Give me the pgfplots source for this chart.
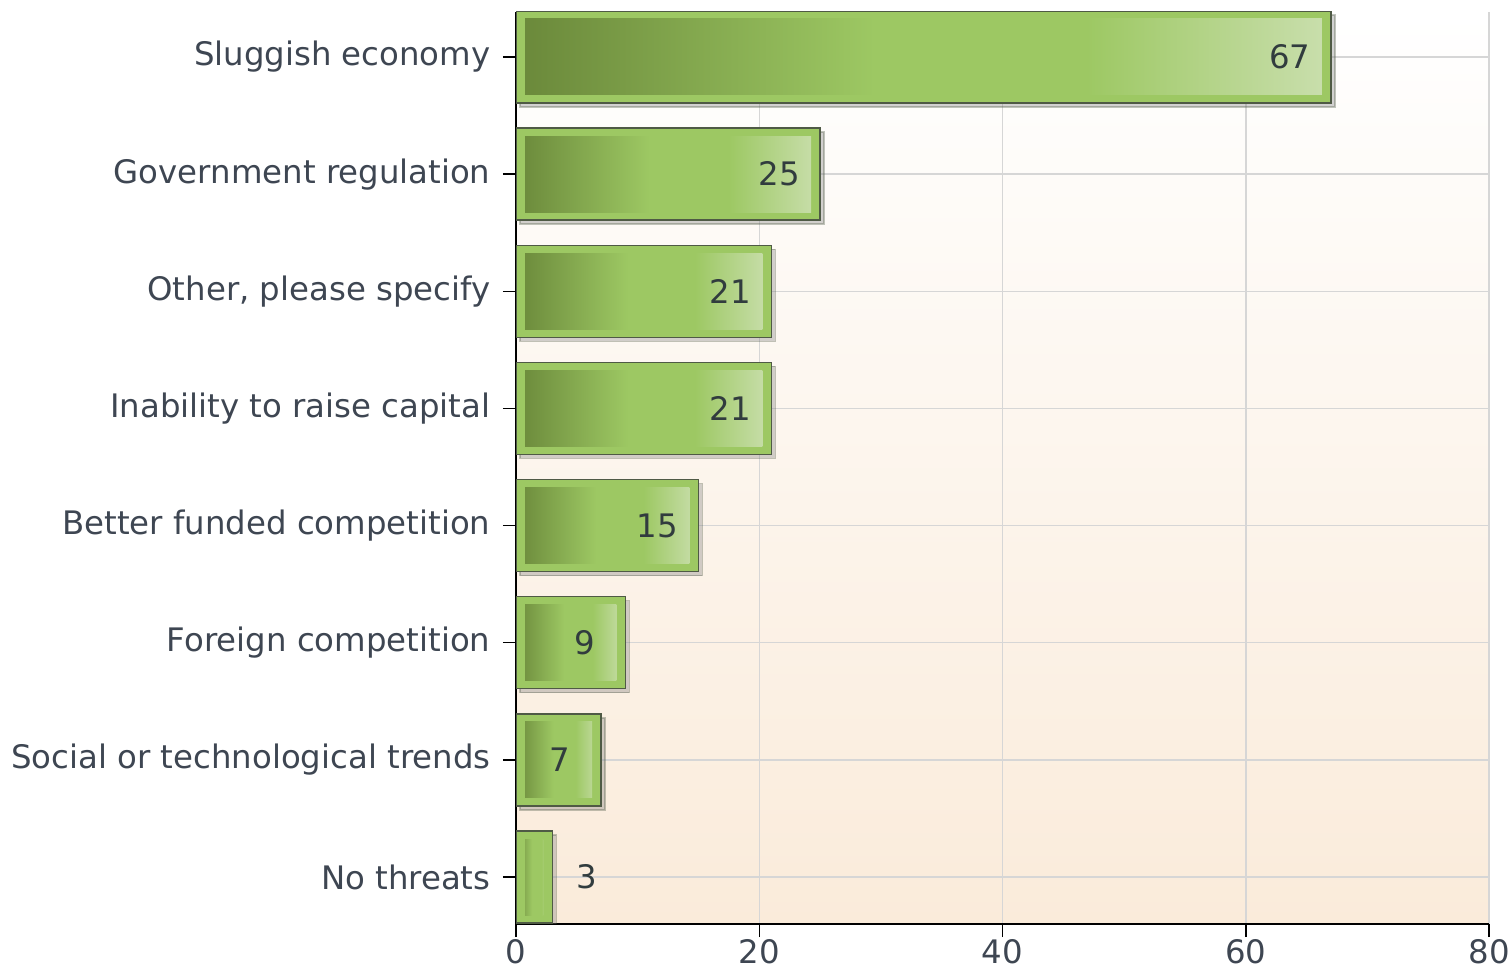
\documentclass[border=0pt]{standalone}
\usepackage{pgfplots}
\pgfplotsset{compat=1.18}
\usepackage{fontspec}
\setmainfont{DejaVu Sans}
\usetikzlibrary{shadows}
\definecolor{barmid}{HTML}{9DC863}
\definecolor{bardark}{HTML}{6A883A}
\definecolor{barlight}{HTML}{CADFAE}
\definecolor{bardraw}{HTML}{4F5A45}
\definecolor{bgbottom}{HTML}{FAEBDA}
\definecolor{txt}{HTML}{3E4652}
\definecolor{valtxt}{HTML}{313C3E}
\definecolor{gridc}{HTML}{D6D6D6}
\pgfdeclarehorizontalshading{barshade}{100bp}{color(0bp)=(bardark); color(25bp)=(bardark); color(47bp)=(barmid); color(60bp)=(barmid); color(75bp)=(barlight); color(100bp)=(barlight)}
\newcommand{\innershade}{%
  \pgfpathrectanglecorners
    {\pgfpointadd{\pgfpointanchor{path picture bounding box}{south west}}{\pgfpoint{9bp}{8bp}}}%
    {\pgfpointadd{\pgfpointanchor{path picture bounding box}{north east}}{\pgfpoint{-9bp}{-8bp}}}%
  \pgfshadepath{barshade}{0}%
  \pgfusepath{discard}}
\pgfplotsset{
  mybar/.style={
    xbar, bar shift=0pt, bar width=92bp,
    fill=barmid, draw=bardraw, line width=1.5bp,
    drop shadow={shadow xshift=4bp, shadow yshift=-4bp, opacity=0.35},
    path picture={\innershade}
  },
  mylab/.style={
    only marks, mark=none, point meta=x, nodes near coords,
    every node near coord/.append style={font=\fontsize{32.5}{38}\selectfont, text=valtxt, anchor=center}
  }
}
\begin{document}
\begin{tikzpicture}
\useasboundingbox (0,0) rectangle (1511bp,971bp);
\begin{axis}[
  at={(516bp,47bp)}, anchor=south west,
  scale only axis, width=973bp, height=912bp,
  xmin=0, xmax=80, ymin=-0.401, ymax=7.384,
  xtick={0,20,40,60,80}, ytick={0,1,2,3,4,5,6,7},
  yticklabels={No threats, Social or technological trends, Foreign competition, Better funded competition, Inability to raise capital, {Other, please specify}, Government regulation, Sluggish economy},
  axis x line*=bottom, axis y line*=left,
  axis line style={-, black, line width=1.5bp},
  tick style={black, line width=1.5bp}, major tick length=13bp, tick align=outside,
  xmajorgrids, ymajorgrids,
  grid style={gridc, line width=1.5bp},
  axis background/.style={shade, top color=white, bottom color=bgbottom},
  tick label style={font=\fontsize{32.5}{38}\selectfont, text=txt},
  yticklabel style={xshift=-9bp},
  xticklabel style={yshift=1bp},
  /pgf/number format/assume math mode=true,
]
\addplot[mybar] coordinates {(67,7)};
\addplot[mybar] coordinates {(25,6)};
\addplot[mybar] coordinates {(21,5)};
\addplot[mybar] coordinates {(21,4)};
\addplot[mybar] coordinates {(15,3)};
\addplot[mybar] coordinates {(9,2)};
\addplot[mybar] coordinates {(7,1)};
\addplot[mybar] coordinates {(3,0)};
\addplot[mylab, every node near coord/.append style={xshift=-41bp}] coordinates {(67,7) (25,6) (21,5) (21,4) (15,3) (9,2) (7,1)};
\addplot[mylab, every node near coord/.append style={xshift=34bp}] coordinates {(3,0)};
\end{axis}
\end{tikzpicture}
\end{document}
